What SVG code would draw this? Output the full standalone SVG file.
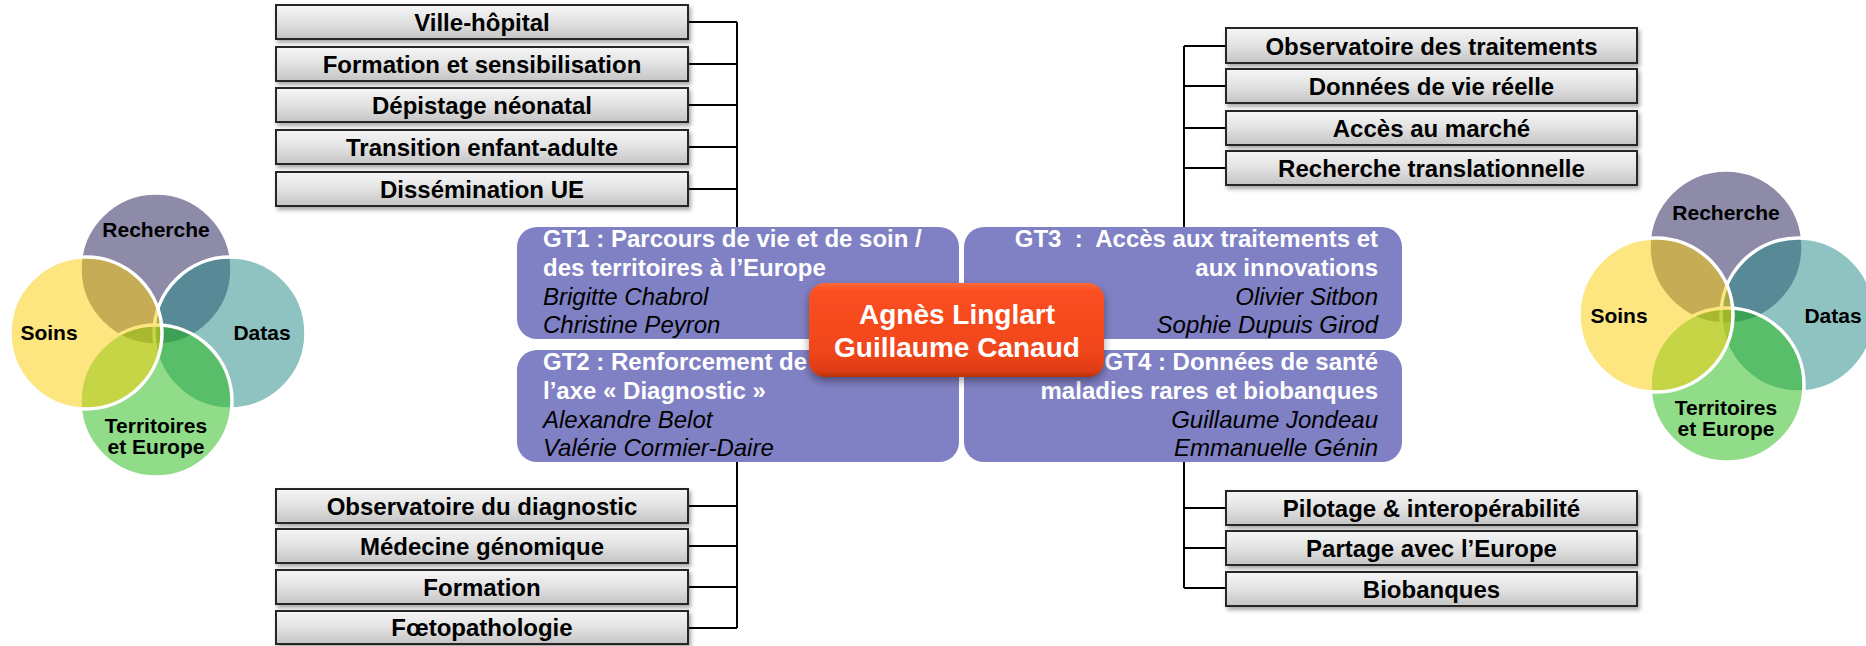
<svg xmlns="http://www.w3.org/2000/svg" width="1866" height="646" viewBox="0 0 1866 646">
<defs>
  <linearGradient id="boxGrad" x1="0" y1="0" x2="0" y2="1">
    <stop offset="0" stop-color="#f6f6f6"/>
    <stop offset="0.5" stop-color="#e2e2e2"/>
    <stop offset="1" stop-color="#c4c4c4"/>
  </linearGradient>
  <linearGradient id="redGrad" x1="0" y1="0" x2="0" y2="1">
    <stop offset="0" stop-color="#ff6a3a"/>
    <stop offset="0.08" stop-color="#fb4f22"/>
    <stop offset="0.75" stop-color="#f0451a"/>
    <stop offset="0.94" stop-color="#dc3c12"/>
    <stop offset="1" stop-color="#b8300c"/>
  </linearGradient>
  <filter id="shadow" x="-10%" y="-20%" width="120%" height="160%">
    <feDropShadow dx="2" dy="3" stdDeviation="2" flood-color="#000" flood-opacity="0.35"/>
  </filter>
  <filter id="redShadow" x="-10%" y="-20%" width="120%" height="150%">
    <feDropShadow dx="0" dy="4" stdDeviation="4" flood-color="#000" flood-opacity="0.4"/>
  </filter>
</defs>
<style>
  text { font-family: "Liberation Sans", Arial, sans-serif; }
  .box { fill: url(#boxGrad); stroke: #262626; stroke-width: 2; filter: url(#shadow); }
  .bt { font-size: 24px; font-weight: bold; fill: #000; text-anchor: middle; }
  .gt { fill: #8080c4; }
  .gtt { font-size: 24px; font-weight: bold; fill: #fff; }
  .gtn { font-size: 24px; font-style: italic; fill: #000; }
  .r { text-anchor: end; }
  .conn { stroke: #000; stroke-width: 2; fill: none; }
  .vc { stroke: #fff; stroke-width: 3.5; fill-opacity: 0.5; }
  .vt { font-size: 21px; font-weight: bold; fill: #000; text-anchor: middle; }
</style>
<rect width="1866" height="646" fill="#fff"/>

<!-- connectors -->
<g id="connectors" class="conn">
  <path d="M737 22 V227 M688 22 H737 M688 64 H737 M688 105 H737 M688 147 H737 M688 189 H737"/>
  <path d="M737 462 V628 M688 506 H737 M688 546 H737 M688 587 H737 M688 628 H737"/>
  <path d="M1184 46 V228 M1184 46 H1226 M1184 86 H1226 M1184 128 H1226 M1184 168 H1226"/>
  <path d="M1184 462 V588 M1184 508 H1226 M1184 548 H1226 M1184 588 H1226"/>
</g>

<!-- left Venn -->
<g id="venn-left">
  <circle class="vc" cx="156" cy="269" r="76" fill="#1d1751"/>
  <circle class="vc" cx="230" cy="333" r="76" fill="#1f8785"/>
  <circle class="vc" cx="156" cy="401" r="76" fill="#21b911"/>
  <circle class="vc" cx="86" cy="333" r="76" fill="#fbcd01"/>
  <text class="vt" x="156" y="237">Recherche</text>
  <text class="vt" x="49" y="340">Soins</text>
  <text class="vt" x="262" y="340">Datas</text>
  <text class="vt" x="156" y="433">Territoires</text>
  <text class="vt" x="156" y="454">et Europe</text>
</g>

<!-- right Venn -->
<g id="venn-right">
  <circle class="vc" cx="1726" cy="247" r="77" fill="#1d1751"/>
  <circle class="vc" cx="1798" cy="315" r="77" fill="#1f8785"/>
  <circle class="vc" cx="1727" cy="385" r="77" fill="#21b911"/>
  <circle class="vc" cx="1656" cy="315" r="77" fill="#fbcd01"/>
  <text class="vt" x="1726" y="220">Recherche</text>
  <text class="vt" x="1619" y="323">Soins</text>
  <text class="vt" x="1833" y="323">Datas</text>
  <text class="vt" x="1726" y="415">Territoires</text>
  <text class="vt" x="1726" y="436">et Europe</text>
</g>

<!-- top-left boxes -->
<g id="ville-hopital"><rect class="box" x="276" y="5" width="412" height="34"/><text class="bt" x="482" y="31">Ville-hôpital</text></g>
<g id="formation-sensibilisation"><rect class="box" x="276" y="47" width="412" height="34"/><text class="bt" x="482" y="73">Formation et sensibilisation</text></g>
<g id="depistage"><rect class="box" x="276" y="88" width="412" height="34"/><text class="bt" x="482" y="114">Dépistage néonatal</text></g>
<g id="transition"><rect class="box" x="276" y="130" width="412" height="34"/><text class="bt" x="482" y="156">Transition enfant-adulte</text></g>
<g id="dissemination"><rect class="box" x="276" y="172" width="412" height="34"/><text class="bt" x="482" y="198">Dissémination UE</text></g>

<!-- bottom-left boxes -->
<g id="observatoire-diagnostic"><rect class="box" x="276" y="489" width="412" height="34"/><text class="bt" x="482" y="515">Observatoire du diagnostic</text></g>
<g id="medecine-genomique"><rect class="box" x="276" y="529" width="412" height="34"/><text class="bt" x="482" y="555">Médecine génomique</text></g>
<g id="formation"><rect class="box" x="276" y="570" width="412" height="34"/><text class="bt" x="482" y="596">Formation</text></g>
<g id="foetopathologie"><rect class="box" x="276" y="611" width="412" height="33"/><text class="bt" x="482" y="636">Fœtopathologie</text></g>

<!-- top-right boxes -->
<g id="observatoire-traitements"><rect class="box" x="1226" y="28" width="411" height="35"/><text class="bt" x="1431.5" y="55">Observatoire des traitements</text></g>
<g id="donnees-vie-reelle"><rect class="box" x="1226" y="69" width="411" height="34"/><text class="bt" x="1431.5" y="95">Données de vie réelle</text></g>
<g id="acces-marche"><rect class="box" x="1226" y="111" width="411" height="34"/><text class="bt" x="1431.5" y="137">Accès au marché</text></g>
<g id="recherche-translationnelle"><rect class="box" x="1226" y="151" width="411" height="34"/><text class="bt" x="1431.5" y="177">Recherche translationnelle</text></g>

<!-- bottom-right boxes -->
<g id="pilotage"><rect class="box" x="1226" y="491" width="411" height="34"/><text class="bt" x="1431.5" y="517">Pilotage &amp; interopérabilité</text></g>
<g id="partage-europe"><rect class="box" x="1226" y="531" width="411" height="34"/><text class="bt" x="1431.5" y="557">Partage avec l’Europe</text></g>
<g id="biobanques"><rect class="box" x="1226" y="572" width="411" height="34"/><text class="bt" x="1431.5" y="598">Biobanques</text></g>

<!-- GT boxes -->
<g id="gt1">
  <rect class="gt" x="517" y="227" width="442" height="112" rx="20"/>
  <text class="gtt" x="543" y="247">GT1 : Parcours de vie et de soin /</text>
  <text class="gtt" x="543" y="276">des territoires à l’Europe</text>
  <text class="gtn" x="543" y="305">Brigitte Chabrol</text>
  <text class="gtn" x="543" y="333">Christine Peyron</text>
</g>
<g id="gt2">
  <rect class="gt" x="517" y="350" width="442" height="112" rx="20"/>
  <text class="gtt" x="543" y="370">GT2 : Renforcement de</text>
  <text class="gtt" x="543" y="399">l’axe « Diagnostic »</text>
  <text class="gtn" x="543" y="428">Alexandre Belot</text>
  <text class="gtn" x="543" y="456">Valérie Cormier-Daire</text>
</g>
<g id="gt3">
  <rect class="gt" x="964" y="227" width="438" height="112" rx="20"/>
  <text class="gtt r" x="1378" y="247" xml:space="preserve">GT3  :  Accès aux traitements et</text>
  <text class="gtt r" x="1378" y="276">aux innovations</text>
  <text class="gtn r" x="1378" y="305">Olivier Sitbon</text>
  <text class="gtn r" x="1378" y="333">Sophie Dupuis Girod</text>
</g>
<g id="gt4">
  <rect class="gt" x="964" y="350" width="438" height="112" rx="20"/>
  <text class="gtt r" x="1378" y="370">GT4 : Données de santé</text>
  <text class="gtt r" x="1378" y="399">maladies rares et biobanques</text>
  <text class="gtn r" x="1378" y="428">Guillaume Jondeau</text>
  <text class="gtn r" x="1378" y="456">Emmanuelle Génin</text>
</g>

<!-- center -->
<g id="center">
  <rect x="809" y="283" width="295" height="94" rx="16" fill="url(#redGrad)" filter="url(#redShadow)"/>
  <text x="957" y="324" font-size="28" font-weight="bold" fill="#fff" text-anchor="middle">Agnès Linglart</text>
  <text x="957" y="357" font-size="28" font-weight="bold" fill="#fff" text-anchor="middle">Guillaume Canaud</text>
</g>
</svg>
